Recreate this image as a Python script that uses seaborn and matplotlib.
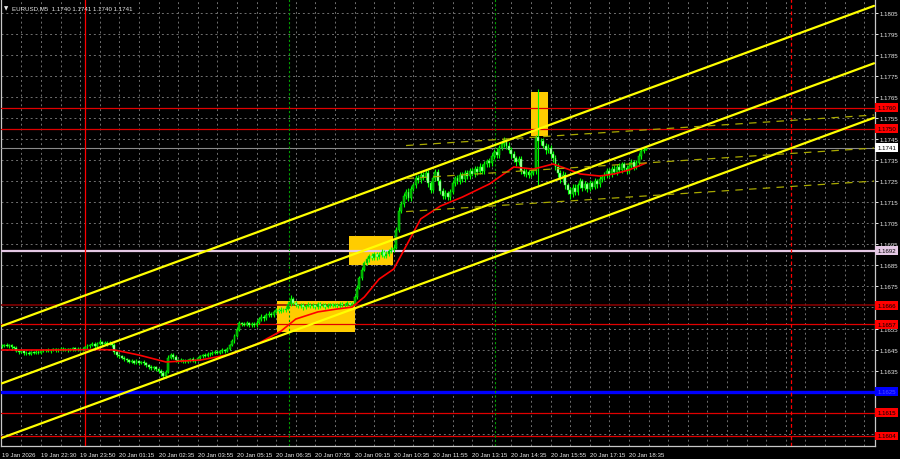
import numpy as np
import pandas as pd
import matplotlib
matplotlib.use("Agg")
import matplotlib.pyplot as plt
import matplotlib.transforms as mtransforms
from matplotlib.patches import Rectangle
from matplotlib import font_manager
import seaborn as sns

# ---------------- data ----------------
first_open = 1.16465
close = [
    1.16468, 1.16472, 1.16465, 1.16470, 1.16462, 1.16458,
    1.16445, 1.16438, 1.16442, 1.16432, 1.16436, 1.16430, 1.16438, 1.16434, 1.16440, 1.16436, 1.16442,
    1.16446, 1.16450, 1.16444, 1.16448, 1.16452, 1.16446, 1.16450, 1.16455, 1.16448, 1.16452, 1.16447, 1.16451, 1.16456, 1.16450, 1.16454, 1.16449, 1.16453,
    1.16460, 1.16466, 1.16470, 1.16475, 1.16468, 1.16478, 1.16485, 1.16478, 1.16482, 1.16476, 1.16480, 1.16472,
    1.16440, 1.16425, 1.16418, 1.16412, 1.16405,
    1.16398, 1.16392, 1.16396, 1.16388, 1.16394, 1.16386, 1.16390, 1.16384,
    1.16375, 1.16368, 1.16362, 1.16366, 1.16356, 1.16350,
    1.16338, 1.16325, 1.16345,
    1.16410, 1.16425, 1.16415,
    1.16400, 1.16395, 1.16402, 1.16396, 1.16392, 1.16398, 1.16404, 1.16396, 1.16400, 1.16408,
    1.16418, 1.16425, 1.16420, 1.16430, 1.16428, 1.16436, 1.16440, 1.16435, 1.16442, 1.16448, 1.16445, 1.16452,
    1.16470, 1.16490, 1.16515, 1.16545,
    1.16575, 1.16570, 1.16568, 1.16574, 1.16566, 1.16572, 1.16565, 1.16578,
    1.16595, 1.16605, 1.16598, 1.16612, 1.16620, 1.16615,
    1.16630, 1.16638, 1.16632, 1.16640, 1.16636, 1.16645,
    1.16668, 1.16690, 1.16672, 1.16660,
    1.16655, 1.16662, 1.16650, 1.16658, 1.16664, 1.16655, 1.16660, 1.16652, 1.16666, 1.16658, 1.16662, 1.16654, 1.16660, 1.16665,
    1.16658, 1.16662, 1.16655, 1.16668, 1.16660, 1.16664, 1.16670, 1.16662, 1.16668,
    1.16700, 1.16745, 1.16790, 1.16830, 1.16860,
    1.16880, 1.16895, 1.16885, 1.16905, 1.16890, 1.16900, 1.16912, 1.16895, 1.16905, 1.16918, 1.16925, 1.16935,
    1.17020, 1.17110, 1.17140,
    1.17180, 1.17200, 1.17170, 1.17215, 1.17230,
    1.17265, 1.17255, 1.17280, 1.17270,
    1.17290, 1.17240, 1.17210, 1.17265, 1.17295, 1.17250, 1.17205,
    1.17180, 1.17195, 1.17175, 1.17200,
    1.17240, 1.17265, 1.17250, 1.17280, 1.17260, 1.17290, 1.17275,
    1.17300, 1.17285, 1.17310, 1.17295, 1.17320, 1.17300, 1.17330, 1.17345, 1.17335,
    1.17370, 1.17390, 1.17375, 1.17410, 1.17425, 1.17445, 1.17420, 1.17400, 1.17380,
    1.17360, 1.17340, 1.17355,
    1.17300, 1.17285, 1.17295, 1.17280, 1.17290,
    1.17300, 1.17460, 1.17440,
    1.17440, 1.17420, 1.17400, 1.17410, 1.17380, 1.17360,
    1.17320, 1.17290, 1.17260, 1.17280, 1.17230, 1.17210, 1.17190, 1.17220, 1.17200,
    1.17230, 1.17250, 1.17220, 1.17235, 1.17215, 1.17240, 1.17225, 1.17250, 1.17235, 1.17260, 1.17270,
    1.17280, 1.17300, 1.17285, 1.17310, 1.17295, 1.17320, 1.17305, 1.17330, 1.17315, 1.17300, 1.17325, 1.17340, 1.17320, 1.17335,
    1.17370, 1.17395, 1.17400, 1.17410,
]
# upper / lower wick lengths in pips, read bar by bar
wick_up = [
    0.8, 0.5, 1.0, 0.6, 0.5, 0.7, 0.9, 0.5, 0.6, 0.8, 0.5, 0.7, 0.6, 0.5, 0.9, 0.6, 0.5,
    0.6, 0.5, 0.8, 0.6, 0.7, 0.5, 0.9, 0.6, 0.5, 0.7, 0.6, 0.8, 0.5, 0.6, 0.7, 0.5, 0.8,
    0.8, 1.0, 0.7, 1.2, 0.9, 1.0, 1.3, 0.8, 1.0, 0.7, 0.9, 0.8,
    0.8, 1.0, 0.6, 0.7, 0.9,
    0.6, 0.8, 1.0, 0.5, 0.9, 0.7, 0.6, 0.8,
    0.7, 0.6, 0.9, 0.8, 0.6, 0.7,
    0.6, 0.8, 1.0,
    1.2, 1.0, 0.8,
    0.7, 0.6, 0.9, 0.5, 0.8, 0.6, 0.7, 0.9, 0.6, 0.8,
    0.8, 0.6, 0.9, 0.7, 1.0, 0.6, 0.8, 0.9, 0.7, 1.0, 0.6, 0.9,
    0.8, 1.0, 0.9, 1.2,
    1.0, 0.8, 0.9, 1.1, 0.7, 1.0, 0.8, 1.2,
    1.0, 1.2, 0.8, 1.0, 1.1, 0.9,
    0.9, 1.0, 0.8, 1.1, 0.9, 1.2,
    1.5, 1.8, 1.0, 0.8,
    0.8, 1.0, 0.7, 0.9, 1.0, 0.8, 0.9, 0.7, 1.1, 0.8, 0.9, 0.7, 1.0, 0.8,
    0.8, 0.9, 0.7, 1.0, 0.8, 0.9, 1.2, 0.8, 0.9,
    1.0, 1.2, 1.0, 1.3, 1.1,
    1.2, 1.0, 1.3, 1.1, 1.0, 1.2, 1.4, 1.0, 1.2, 1.1, 1.3, 1.5,
    1.5, 1.8, 1.4,
    1.5, 1.2, 1.6, 1.3, 1.4,
    1.5, 1.3, 1.6, 1.2,
    1.3, 1.5, 1.2, 1.6, 1.4, 1.2, 1.3,
    1.2, 1.4, 1.1, 1.5,
    1.4, 1.2, 1.5, 1.3, 1.6, 1.2, 1.4,
    1.3, 1.5, 1.2, 1.4, 1.6, 1.3, 1.5, 1.2, 1.4,
    1.5, 1.3, 1.6, 1.4, 1.5, 1.7, 1.3, 1.5, 1.2,
    1.4, 1.2, 1.5,
    1.3, 1.2, 1.4, 1.1, 1.3,
    1.0, 1.0, 23.0,
    1.5, 1.8, 1.4, 1.6, 1.3, 1.5,
    1.4, 1.6, 1.3, 1.8, 1.5, 1.4, 1.2, 1.6, 1.5,
    1.3, 1.5, 1.2, 1.4, 1.3, 1.6, 1.2, 1.4, 1.3, 1.5, 1.2,
    1.3, 1.5, 1.2, 1.4, 1.6, 1.3, 1.5, 1.2, 1.4, 1.3, 1.5, 1.6, 1.2, 1.4,
    1.5, 1.3, 1.2, 0.0,
]
wick_dn = [
    0.6, 0.8, 0.5, 0.7, 0.9, 0.6, 0.8, 0.7, 0.5, 0.9, 0.6, 0.5, 0.8, 0.6, 0.5, 0.7, 0.6,
    0.5, 0.7, 0.6, 0.8, 0.5, 0.9, 0.6, 0.5, 0.7, 0.6, 0.8, 0.5, 0.7, 0.6, 0.5, 0.8, 0.6,
    0.6, 0.8, 0.7, 0.5, 0.9, 0.6, 0.7, 1.0, 0.6, 0.8, 0.5, 0.9,
    1.2, 0.8, 1.0, 0.6, 0.9,
    0.8, 0.6, 0.7, 0.9, 0.5, 0.8, 0.7, 0.6,
    0.9, 1.0, 0.8, 1.1, 0.9, 1.0,
    1.5, 1.2, 1.2,
    0.8, 0.6, 0.9,
    0.8, 0.7, 0.5, 0.9, 0.6, 0.8, 0.5, 0.7, 0.9, 0.6,
    0.6, 0.8, 0.7, 0.5, 0.9, 0.6, 0.7, 0.8, 0.5, 0.6, 0.9, 0.7,
    0.6, 0.5, 0.8, 0.7,
    0.8, 0.9, 0.7, 0.6, 1.0, 0.8, 0.9, 0.7,
    0.7, 0.8, 1.0, 0.6, 0.8, 0.9,
    0.8, 0.7, 0.9, 0.6, 0.8, 0.7,
    0.7, 0.9, 1.2, 1.0,
    0.9, 0.7, 1.0, 0.8, 0.7, 0.9, 0.8, 1.0, 0.7, 0.9, 0.8, 1.0, 0.7, 0.8,
    0.8, 0.7, 0.9, 0.8, 1.0, 0.7, 0.8, 0.9, 0.8,
    0.6, 0.8, 0.7, 0.9, 0.8,
    1.0, 1.2, 0.9, 1.1, 1.3, 1.0, 0.9, 1.2, 1.0, 1.1, 0.9, 1.0,
    0.8, 1.0, 1.2,
    1.4, 1.6, 1.2, 1.5, 1.1,
    1.2, 1.5, 1.1, 1.4,
    1.4, 1.6, 1.5, 1.2, 1.3, 1.6, 1.5,
    1.5, 1.2, 1.6, 1.3,
    1.2, 1.4, 1.3, 1.5, 1.2, 1.4, 1.3,
    1.4, 1.2, 1.5, 1.3, 1.2, 1.6, 1.3, 1.4, 1.5,
    1.2, 1.4, 1.3, 1.5, 1.2, 1.4, 1.6, 1.5, 1.7,
    1.6, 1.5, 1.3,
    1.4, 1.2, 1.5, 1.3, 1.2,
    1.2, 1.5, 21.0,
    1.6, 1.4, 1.8, 1.5, 1.7, 1.6,
    1.6, 1.8, 2.0, 1.5, 1.8, 2.0, 2.2, 1.6, 1.5,
    1.4, 1.3, 1.5, 1.2, 1.6, 1.3, 1.4, 1.2, 1.5, 1.3, 1.4,
    1.2, 1.4, 1.5, 1.3, 1.2, 1.6, 1.3, 1.4, 1.5, 1.3, 1.2, 1.4, 1.5, 1.3,
    1.2, 1.4, 1.1, 0.0,
]

# red moving average (bar index, price)
ma_bar = [0, 20, 40, 46, 56, 67, 81, 94, 105, 114, 120, 129, 137, 143, 148, 154, 160,
          171, 179, 188, 199, 209, 217, 225, 231, 236, 244, 250, 256, 263]
ma_val = [1.16448, 1.16448, 1.16450, 1.16448, 1.16424, 1.16391, 1.16400, 1.16429, 1.16481,
          1.16538, 1.16595, 1.16629, 1.16643, 1.16652, 1.16700, 1.16785, 1.16833,
          1.17071, 1.17132, 1.17175, 1.17237, 1.17318, 1.17308, 1.17332, 1.17308, 1.17285,
          1.17275, 1.17285, 1.17304, 1.17337]

time_labels = ["19 Jan 2026", "19 Jan 22:30", "19 Jan 23:50", "20 Jan 01:15", "20 Jan 02:35",
               "20 Jan 03:55", "20 Jan 05:15", "20 Jan 06:35", "20 Jan 07:55", "20 Jan 09:15",
               "20 Jan 10:35", "20 Jan 11:55", "20 Jan 13:15", "20 Jan 14:35", "20 Jan 15:55",
               "20 Jan 17:15", "20 Jan 18:35"]
price_ticks = [1.1605, 1.1615, 1.1625, 1.1635, 1.1645, 1.1655, 1.1665, 1.1675, 1.1685, 1.1695,
               1.1705, 1.1715, 1.1725, 1.1735, 1.1745, 1.1755, 1.1765, 1.1775, 1.1785, 1.1795, 1.1805]
# grid labels that sit under a level tag on the price scale
hidden_ticks = [1.1605, 1.1615, 1.1625, 1.1665]

# horizontal levels
red_levels = [1.1760, 1.1750, 1.1657, 1.1615, 1.1604]
darkred_level = 1.1666
bid_level = 1.1741
pivot_level = 1.1692
blue_level = 1.1625

# yellow channel (bar, price endpoints)
chan_bars = [0, 356]
chan_top = [1.16562, 1.18084]
chan_mid = [1.16289, 1.17811]
chan_low = [1.16030, 1.17552]
# dashed regression channel
reg_bars = [165, 356]
reg_top = [1.17420, 1.17565]
reg_mid = [1.17263, 1.17408]
reg_low = [1.17106, 1.17251]

# yellow boxes: bar start, bar end, price low, price high
box_b0 = [112.2, 141.7, 216.2]
box_b1 = [144.2, 159.7, 223.1]
box_lo = [1.16535, 1.16852, 1.17467]
box_hi = [1.16679, 1.16990, 1.17673]

green_vlines = [117.3, 201.3]
red_vline = 34
red_dotted_vline = 322

title_text = "EURUSD,M5  1.1740 1.1741 1.1740 1.1741"

# ---------------- build ----------------
n = len(close)
op = [first_open] + close[:-1]
df = pd.DataFrame({"bar": np.arange(n), "open": op, "close": close})
df["high"] = np.maximum(df["open"], df["close"]) + np.array(wick_up) * 1e-4
df["low"] = np.minimum(df["open"], df["close"]) - np.array(wick_dn) * 1e-4
df["bull"] = df["close"] >= df["open"]

sns.set_style("dark", rc={"axes.facecolor": "black", "figure.facecolor": "black"})
installed = {f.name for f in font_manager.fontManager.ttflist}
narrow = "Liberation Sans Narrow" in installed
fam = ["Liberation Sans Narrow"] if narrow else ["Liberation Sans"]
plt.rcParams["font.family"] = fam + ["DejaVu Sans"]
fs = 5.0 if narrow else 4.4

W, H = 900, 460
fig = plt.figure(figsize=(W / 100, H / 100), dpi=100)
fig.patch.set_facecolor("black")
ax = fig.add_axes([1 / W, 13.5 / H, 874 / W, 446.5 / H])
ax.set_facecolor("black")

ax.set_xlim(-0.29, 356.4)
ax.set_ylim(1.159939, 1.181166)

# grid
gcol = "#707070"
for b in range(8, 360, 8):
    ax.axvline(b, color=gcol, lw=0.7, ls=(0, (2, 3)), zorder=1)
for p in price_ticks:
    ax.axhline(p, color=gcol, lw=0.7, ls=(0, (2, 3)), zorder=1)

# boxes
for b0, b1, lo, hi in zip(box_b0, box_b1, box_lo, box_hi):
    ax.add_patch(Rectangle((b0, lo), b1 - b0, hi - lo, facecolor="#FFCC00", edgecolor="none", zorder=2))

# horizontal levels
for p in red_levels:
    ax.axhline(p, color="#E00000", lw=0.9, zorder=3)
ax.axhline(darkred_level, color="#8B0000", lw=1.1, zorder=3)
ax.axhline(bid_level, color="#8a8a8a", lw=0.8, zorder=3)
ax.axhline(pivot_level, color="#E4C8E4", lw=1.6, zorder=3)
ax.axhline(blue_level, color="#0000FF", lw=2.4, zorder=3)

# vertical lines
for b in green_vlines:
    ax.axvline(b, color="#00A000", lw=0.8, ls=(0, (2, 2)), zorder=3)
ax.axvline(red_vline, color="#FF0000", lw=0.9, zorder=3)
ax.axvline(red_dotted_vline, color="#FF0000", lw=0.9, ls=(0, (3, 2)), zorder=3)

# candles
ax.vlines(df["bar"], df["low"], df["high"], color="#00FF00", lw=0.8, zorder=4)
bull = df[df["bull"]]
bear = df[~df["bull"]]
ax.bar(bull["bar"], (bull["close"] - bull["open"]).clip(lower=1e-5), bottom=bull["open"], width=0.78,
       color="#00A000", edgecolor="#00FF00", linewidth=0.35, zorder=5)
ax.bar(bear["bar"], (bear["open"] - bear["close"]).clip(lower=1e-5), bottom=bear["close"], width=0.78,
       color="#C8FFC8", edgecolor="#00FF00", linewidth=0.35, zorder=5)

# moving average
sns.lineplot(x=ma_bar, y=ma_val, ax=ax, color="#FF0000", lw=1.2, zorder=6)

# channels
for vals in (chan_top, chan_mid, chan_low):
    sns.lineplot(x=chan_bars, y=vals, ax=ax, color="#FFFF00", lw=1.6, zorder=7)
for vals in (reg_top, reg_mid, reg_low):
    ax.plot(reg_bars, vals, color="#A8A800", lw=0.9, ls=(0, (6, 5)), zorder=7)

# axes styling
ax.spines["top"].set_visible(False)
for s in ("left", "bottom", "right"):
    ax.spines[s].set_color("#c8c8c8")
    ax.spines[s].set_linewidth(0.9)

ax.set_xticks(np.arange(len(time_labels)) * 16)
ax.set_xticklabels(time_labels)
for lbl in ax.get_xticklabels():
    lbl.set_horizontalalignment("left")
ax.tick_params(axis="x", colors="#e8e8e8", labelsize=fs, length=3, width=0.7, pad=1.5, direction="out")

ax.yaxis.tick_right()
ax.set_yticks(price_ticks)
ax.set_yticklabels(["" if p in hidden_ticks else f"{p:.4f}" for p in price_ticks])
ax.tick_params(axis="y", colors="#e8e8e8", labelsize=fs, length=2, width=0.7, pad=1.5, direction="out")
ax.set_xlabel("")
ax.set_ylabel("")
if ax.get_legend():
    ax.get_legend().remove()

# price label boxes on the right axis
trans = mtransforms.blended_transform_factory(ax.transAxes, ax.transData)
def tag(p, fc, tc="black"):
    ax.text(1.0025, p, f"{p:.4f}", transform=trans, fontsize=fs, color=tc, va="center", ha="left",
            bbox=dict(boxstyle="square,pad=0.28", fc=fc, ec="none"), clip_on=False, zorder=10)

for p in red_levels:
    tag(p, "#FF0000")
tag(darkred_level, "#FF0000")
tag(bid_level, "#FFFFFF")
tag(pivot_level, "#E4C8E4")
tag(blue_level, "#0000FF", "#5050ff")

# title
fig.text(4 / W, 1 - 9 / H, "\u25BC", color="#e8e8e8", fontsize=4, va="center", ha="left",
         family="DejaVu Sans")
fig.text(12 / W, 1 - 9 / H, title_text, color="#e8e8e8", fontsize=fs, va="center", ha="left")

fig.savefig("out.png", dpi=100, facecolor="black")
